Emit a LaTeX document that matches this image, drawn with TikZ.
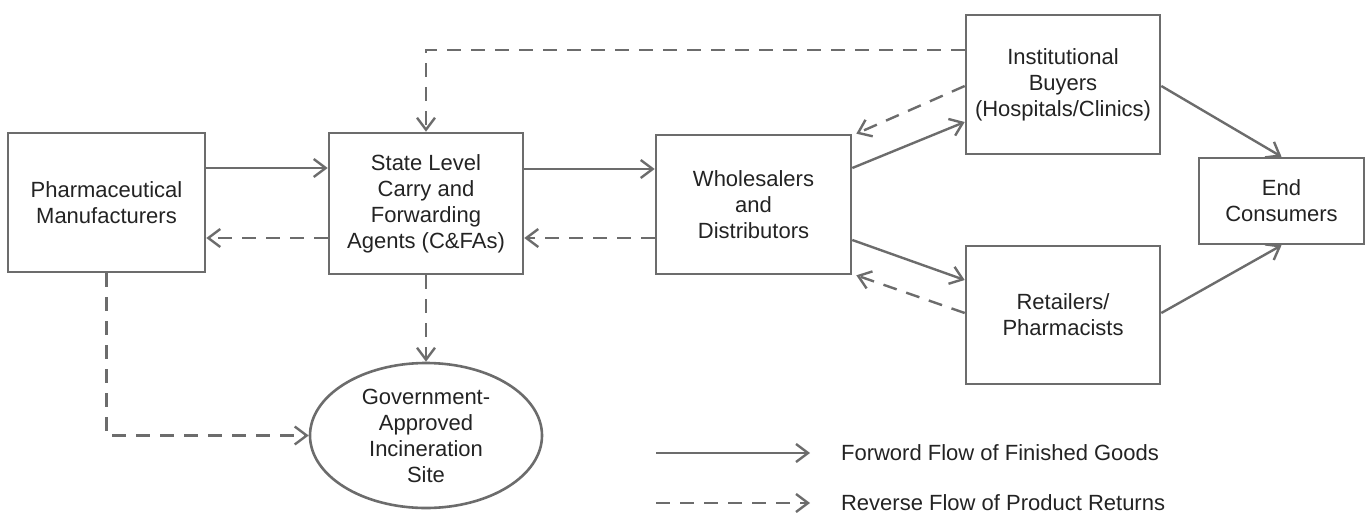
\documentclass[tikz,border=0pt]{standalone}
\usepackage{fontspec}
\setmainfont{Liberation Sans}
\usetikzlibrary{arrows.meta,shapes.geometric}

\definecolor{edgegray}{RGB}{108,108,108}
\definecolor{textgray}{RGB}{35,35,35}

\tikzset{
	chainbox/.style={draw=edgegray, line width=1.3pt, align=center, text=textgray, inner sep=0pt,
		font=\fontsize{11}{13}\selectfont},
	fwd/.style={draw=edgegray, line width=1.2pt, -{Straight Barb[length=6pt,width=9pt]}},
	rev/.style={fwd, dash pattern=on 7pt off 5pt},
	legendtext/.style={anchor=west, text=textgray, font=\fontsize{11}{13}\selectfont}
}

\begin{document}
\begin{tikzpicture}[x=0.5pt, y=-0.5pt]
	\useasboundingbox (0,0) rectangle (1368,514);

	\node[chainbox, minimum width=98.5pt, minimum height=69.5pt] (pharma) at (106.5,202.5) {Pharmaceutical\\Manufacturers};
	\node[chainbox, minimum width=97pt, minimum height=70.5pt] (cfa) at (426,203.5) {State Level\\Carry and\\Forwarding\\Agents (C\&FAs)};
	\node[chainbox, minimum width=97.5pt, minimum height=69.5pt] (whol) at (753.5,204.5) {Wholesalers\\and\\Distributors};
	\node[chainbox, minimum width=97pt, minimum height=69.5pt] (inst) at (1063,84.5) {Institutional\\Buyers\\(Hospitals/Clinics)};
	\node[chainbox, minimum width=97pt, minimum height=69pt] (retail) at (1063,315) {Retailers/\\Pharmacists};
	\node[chainbox, minimum width=82.5pt, minimum height=43pt] (endc) at (1281.5,201) {End\\Consumers};
	\node[chainbox, ellipse, minimum width=116pt, minimum height=72.5pt] (site) at (426,435.5) {Government-\\Approved\\Incineration\\Site};

	% forward flow
	\draw[fwd] (pharma.east |- 0,168) -- (cfa.west |- 0,168);
	\draw[fwd] (cfa.east |- 0,169) -- (whol.west |- 0,169);
	\draw[fwd] (whol.east |- 0,168) -- (inst.west |- 0,122);
	\draw[fwd] (whol.east |- 0,240) -- (retail.west |- 0,280);
	\draw[fwd] (inst.east |- 0,86) -- (endc.north);
	\draw[fwd] (retail.east |- 0,313) -- (endc.south);

	% returns
	\draw[rev] (cfa.west |- 0,238) -- (pharma.east |- 0,238);
	\draw[rev] (whol.west |- 0,238) -- (cfa.east |- 0,238);
	\draw[rev] (inst.west |- 0,86) -- ([xshift=2pt]whol.north east);
	\draw[rev] (retail.west |- 0,313) -- ([xshift=2pt]whol.south east);
	\draw[rev] (inst.west |- 0,50) -| (cfa.north);
	\draw[rev] (cfa.south) -- (site.north);
	\draw[rev] (pharma.south) |- (site.west);

	% legend
	\coordinate (fwdA) at (656,453);
	\coordinate (fwdB) at (810,453);
	\coordinate (revA) at (656,503);
	\coordinate (revB) at (810,503);
	\draw[fwd] (fwdA) -- (fwdB);
	\draw[rev] (revA) -- (revB);
	\node[legendtext] (fwdlabel) at (834,453) {Forword Flow of Finished Goods};
	\node[legendtext] (revlabel) at (834,503) {Reverse Flow of Product Returns};
\end{tikzpicture}
\end{document}
